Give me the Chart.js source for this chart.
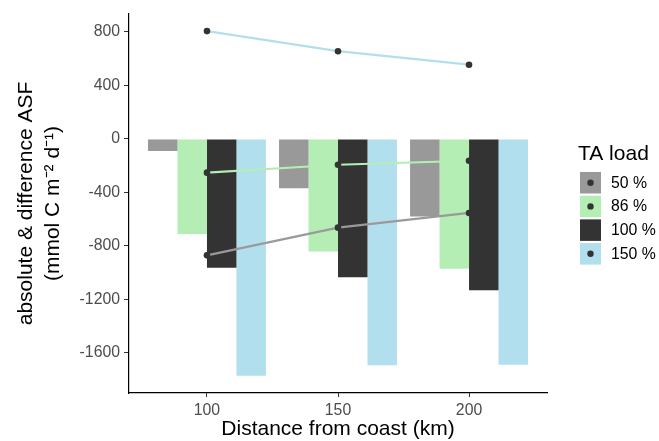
<!DOCTYPE html>
<html>
<head>
<meta charset="utf-8">
<script src="https://cdn.jsdelivr.net/npm/chart.js@4"></script>
<style>
  html, body { margin: 0; padding: 0; background: #fff; }
</style>
</head>
<body>
<canvas id="asfChart" width="659" height="441"></canvas>
<script>
const distances = [100, 150, 200];
const loadLabels = ['50 %', '86 %', '100 %', '150 %'];

// absolute ASF (bars)
const asf50 = [-90, -369, -580];
const asf86 = [-710, -842, -970];
const asf100 = [-962, -1034, -1131];
const asf150 = [-1770, -1692, -1687];

// difference ASF (lines)
const diff50 = [-870, -663, -553];
const diff86 = [-252, -193, -163];
const diff150 = [806, 656, 555];

const yTicks = [-1600, -1200, -800, -400, 0, 400, 800];

const loadColors = ['#999999', '#B4EEB4', '#333333', '#B2DFEE'];
const FONT = '"Liberation Sans", Arial, sans-serif';

const toPoints = vals => vals.map((v, i) => ({ x: distances[i], y: v }));

const barSets = [asf50, asf86, asf100, asf150].map((vals, i) => ({
    type: 'bar',
    label: loadLabels[i],
    data: toPoints(vals),
    backgroundColor: loadColors[i],
    borderWidth: 0,
    categoryPercentage: 0.9,
    barPercentage: 1.0,
    order: 2
}));

const lineSet = (vals, color) => ({
    type: 'line',
    data: toPoints(vals),
    borderColor: color,
    borderWidth: 2.2,
    pointRadius: 3.3,
    pointBackgroundColor: '#333333',
    pointBorderWidth: 0,
    fill: false,
    order: 1
});

// legend drawn by hand, ggplot style keys (square + dot)
const taLegend = {
    id: 'taLegend',
    afterDraw(chart) {
        const ctx = chart.ctx;
        ctx.save();
        ctx.fillStyle = '#000';
        ctx.font = '21px ' + FONT;
        ctx.textBaseline = 'alphabetic';
        ctx.fillText('TA load', 578, 160);
        loadLabels.forEach((lab, i) => {
            const top = 172 + i * 23.7;
            ctx.fillStyle = loadColors[i];
            ctx.fillRect(580, top, 21, 21.5);
            ctx.fillStyle = '#333333';
            ctx.beginPath();
            ctx.arc(590.5, top + 10.7, 3.2, 0, Math.PI * 2);
            ctx.fill();
            ctx.fillStyle = '#000';
            ctx.font = '15.8px ' + FONT;
            ctx.textBaseline = 'middle';
            ctx.fillText(lab, 611, top + 11.2);
        });
        ctx.restore();
    }
};

const chart = new Chart(
    document.getElementById('asfChart'),
    {
        type: 'bar',
        data: {
            datasets: [
                lineSet(diff50, '#9a9a9a'),
                lineSet(diff86, '#B4EEB4'),
                lineSet(diff150, '#B2DFEE'),
                ...barSets
            ]
        },
        options: {
            responsive: false,
            animation: false,
            layout: { padding: { top: 14, right: 112, left: 0, bottom: 0 } },
            plugins: {
                legend: { display: false },
                tooltip: { enabled: false }
            },
            scales: {
                x: {
                    type: 'linear',
                    min: 70.25,
                    max: 229.75,
                    offset: false,
                    grid: { display: true, drawOnChartArea: false, drawTicks: true, tickLength: 4, color: '#333333', offset: false },
                    border: { display: true, color: '#000', width: 1.2 },
                    ticks: { color: '#4d4d4d', font: { family: FONT, size: 15.8 }, padding: 4, maxRotation: 0, autoSkip: false },
                    afterBuildTicks: s => { s.ticks = distances.map(v => ({ value: v })); },
                    afterFit: s => { s.height = 48; },
                    title: {
                        display: true,
                        text: 'Distance from coast (km)',
                        color: '#000',
                        font: { family: FONT, size: 21, lineHeight: 1 },
                        padding: { top: 0, bottom: 1 }
                    }
                },
                y: {
                    type: 'linear',
                    min: -1899,
                    max: 934,
                    grid: { display: true, drawOnChartArea: false, drawTicks: true, tickLength: 5, color: '#333333' },
                    border: { display: true, color: '#000', width: 1.2 },
                    ticks: { color: '#4d4d4d', font: { family: FONT, size: 15.8 }, padding: 4, callback: v => String(v) },
                    afterBuildTicks: s => { s.ticks = yTicks.map(v => ({ value: v })); },
                    afterFit: s => { s.width = 129; },
                    title: {
                        display: true,
                        text: ['absolute & difference ASF', '(mmol C m\u207B\u00B2 d\u207B\u00B9)'],
                        color: '#000',
                        font: { family: FONT, size: 21, lineHeight: 1.27 },
                        padding: { top: 12.7, bottom: 0 }
                    }
                }
            }
        },
        plugins: [taLegend]
    }
);
</script>
</body>
</html>
